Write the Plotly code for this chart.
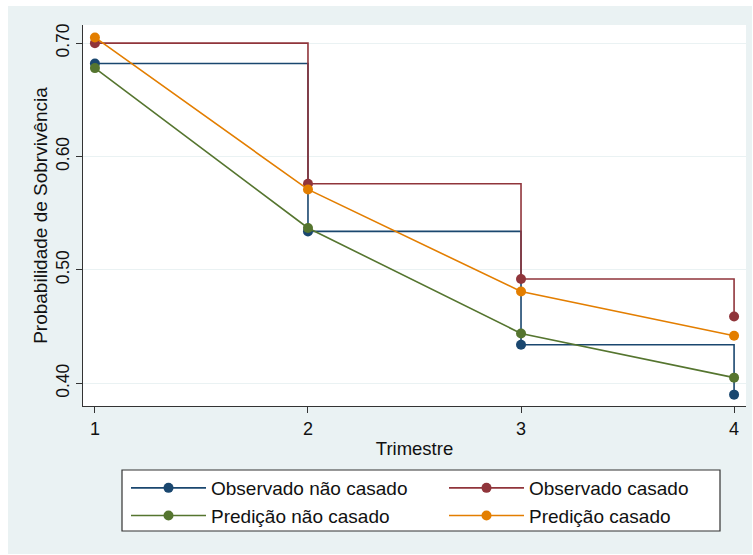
import plotly.graph_objects as go

trimestre = [1, 2, 3, 4]
obs_nao_casado = [0.682, 0.534, 0.434, 0.390]
obs_casado = [0.700, 0.576, 0.492, 0.459]
pred_nao_casado = [0.678, 0.537, 0.444, 0.405]
pred_casado = [0.705, 0.571, 0.481, 0.442]

# (label, values, colour, line shape, legend column)
series = [
    ("Observado não casado", obs_nao_casado, "#1a476f", "hv", "legend"),
    ("Observado casado", obs_casado, "#90353b", "hv", "legend2"),
    ("Predição não casado", pred_nao_casado, "#55752f", "linear", "legend"),
    ("Predição casado", pred_casado, "#e37e00", "linear", "legend2"),
]

W, H = 753, 555
ML, MR, MT, MB = 83, 7, 25, 149
pw, ph = W - ML - MR, H - MT - MB

def px_x(p):
    return (p - ML) / pw

def px_y(p):
    return (H - MB - p) / ph

fig = go.Figure()
for name, vals, color, shape, leg in series:
    fig.add_trace(go.Scatter(
        x=trimestre, y=vals, name=name, mode="lines+markers",
        line=dict(color=color, width=1.6, shape=shape),
        marker=dict(color=color, size=10),
        legend=leg,
    ))

bg = "#eaf2f3"
font_family = "Liberation Sans, Arial, sans-serif"
legend_common = dict(
    orientation="v", yanchor="top", xanchor="left",
    bgcolor="rgba(0,0,0,0)", borderwidth=0,
    font=dict(size=19, family=font_family, color="#111"),
    itemwidth=75, traceorder="normal",
)

fig.update_layout(
    width=W, height=H,
    margin=dict(l=ML, r=MR, t=MT, b=MB),
    paper_bgcolor="white",
    plot_bgcolor="rgba(0,0,0,0)",
    font=dict(family=font_family, size=18, color="#111"),
    showlegend=True,
    shapes=[
        dict(type="rect", xref="paper", yref="paper", layer="below",
             x0=px_x(8), x1=px_x(752), y0=px_y(554), y1=px_y(6),
             fillcolor=bg, line=dict(width=0)),
        dict(type="rect", xref="paper", yref="paper", layer="below",
             x0=0, x1=1, y0=0, y1=1, fillcolor="white", line=dict(width=0)),
        dict(type="rect", xref="paper", yref="paper", layer="below",
             x0=px_x(122), x1=px_x(720), y0=px_y(531), y1=px_y(470),
             fillcolor="white", line=dict(color="#333", width=1.2)),
    ],
    xaxis=dict(
        range=[0.944, 4.056], tickvals=trimestre, ticktext=[str(t) for t in trimestre],
        showgrid=False, zeroline=False, showline=True, linecolor="#333", linewidth=1.2,
        ticks="outside", ticklen=6, tickcolor="#333", tickfont=dict(size=18),
        title=dict(text="Trimestre", font=dict(size=18.5), standoff=4),
    ),
    yaxis=dict(
        range=[0.38, 0.716], tickvals=[0.4, 0.5, 0.6, 0.7], tickformat=".2f",
        tickangle=-90, showgrid=True, gridcolor=bg, gridwidth=1.2,
        zeroline=False, showline=True, linecolor="#333", linewidth=1.2,
        ticks="outside", ticklen=6, tickcolor="#333", tickfont=dict(size=17.5),
        title=dict(text="Probabilidade de Sobrvivência", font=dict(size=19), standoff=0),
    ),
    legend=dict(x=px_x(126), y=px_y(469), **legend_common),
    legend2=dict(x=px_x(444), y=px_y(469), **legend_common),
)

fig.write_html("out.html")
